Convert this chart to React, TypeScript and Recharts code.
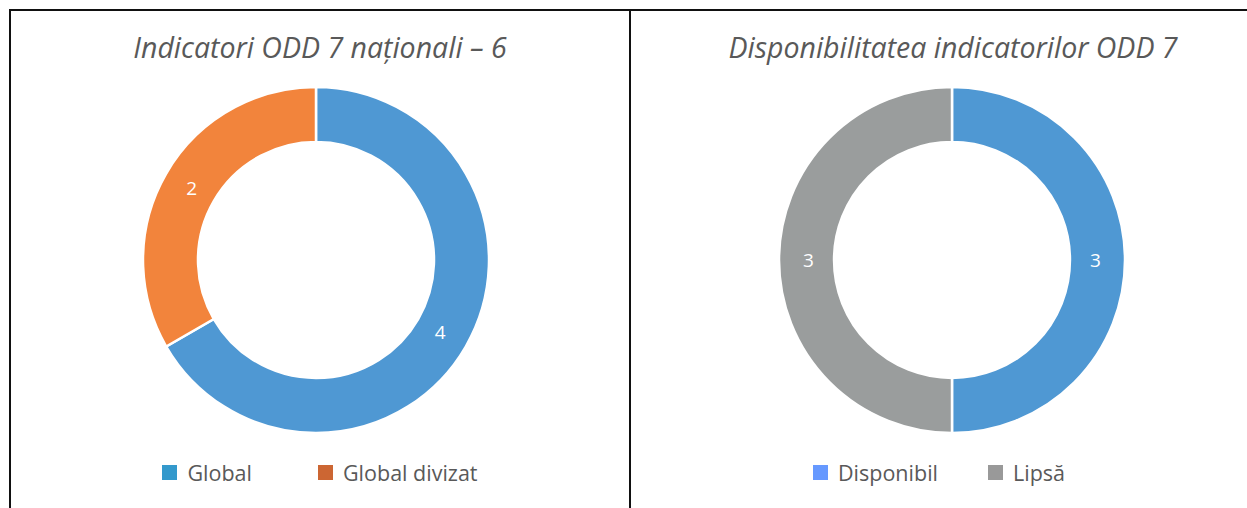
import React from 'react';
import { Legend, Pie, PieChart, Cell } from 'recharts';

const leftTitle = 'Indicatori ODD 7 naționali – 6';
const leftNames = ['Global', 'Global divizat'];
const leftValues = [4, 2];
const leftColors = ['#4F98D3', '#F2843C'];
const leftLegendColors = ['#3399CC', '#CC6633'];

const rightTitle = 'Disponibilitatea indicatorilor ODD 7';
const rightNames = ['Disponibil', 'Lipsă'];
const rightValues = [3, 3];
const rightColors = ['#4F98D3', '#9A9D9D'];
const rightLegendColors = ['#6699FF', '#999999'];

const FONT = '"Open Sans", "Noto Sans", sans-serif';
const TEXT = '#595959';
const RADIAN = Math.PI / 180;

const renderLabel = (props: any) => {
  const { cx, cy, midAngle, innerRadius, outerRadius, value } = props;
  const r = (innerRadius + outerRadius) / 2 - 2;
  const x = cx + r * Math.cos(-midAngle * RADIAN);
  const y = cy + r * Math.sin(-midAngle * RADIAN);
  return (
    <text x={x} y={y} fill="#fff" fontSize={19} fontFamily={FONT} textAnchor="middle" dominantBaseline="central">
      {value}
    </text>
  );
};

type DonutProps = {
  title: string;
  names: string[];
  values: number[];
  colors: string[];
  legendColors: string[];
  left: number;
  width: number;
  cx: number;
  titleCenter: number;
  legendGap: number;
};

const Donut: React.FC<DonutProps> = ({ title, names, values, colors, legendColors, left, width, cx, titleCenter, legendGap }) => {
  const data = names.map((name, i) => ({ name, value: values[i] }));
  return (
    <div style={{ position: 'absolute', left, top: 10, width, height: 498 }}>
      <div
        style={{
          position: 'absolute',
          top: 18,
          left: titleCenter - 300,
          width: 600,
          textAlign: 'center',
          fontFamily: FONT,
          fontStyle: 'italic',
          fontSize: 28.5,
          color: TEXT,
          whiteSpace: 'nowrap',
        }}
      >
        {title}
      </div>
      <PieChart width={width} height={498} margin={{ top: 0, right: 0, bottom: 0, left: 0 }}>
        <Pie
          data={data}
          dataKey="value"
          nameKey="name"
          cx={cx}
          cy={250}
          innerRadius={118}
          outerRadius={173}
          startAngle={90}
          endAngle={-270}
          stroke="#fff"
          strokeWidth={2.5}
          label={renderLabel}
          labelLine={false}
          isAnimationActive={false}
        >
          {data.map((d, i) => (
            <Cell key={d.name} fill={colors[i]} />
          ))}
        </Pie>
        <Legend
          wrapperStyle={{ position: 'absolute', top: 448, left: 0, width, height: 28 }}
          content={() => (
            <div style={{ display: 'flex', justifyContent: 'center', alignItems: 'center', gap: legendGap }}>
              {names.map((n, i) => (
                <div key={n} style={{ display: 'flex', alignItems: 'center', fontFamily: FONT, fontSize: 21.5, color: TEXT }}>
                  <span style={{ width: 15, height: 15, background: legendColors[i], marginRight: 10, display: 'inline-block' }} />
                  {n}
                </div>
              ))}
            </div>
          )}
        />
      </PieChart>
    </div>
  );
};

export default function App() {
  return (
    <div style={{ position: 'absolute', left: 0, top: 0, width: 1247, height: 508, background: '#fff', overflow: 'hidden' }}>
      <div style={{ position: 'absolute', left: 9, top: 9, width: 1238, height: 2, background: '#111' }} />
      <div style={{ position: 'absolute', left: 9, top: 9, width: 2, height: 499, background: '#111' }} />
      <div style={{ position: 'absolute', left: 629, top: 9, width: 2, height: 499, background: '#111' }} />
      <Donut
        title={leftTitle}
        names={leftNames}
        values={leftValues}
        colors={leftColors}
        legendColors={leftLegendColors}
        left={11}
        width={618}
        cx={305}
        titleCenter={309}
        legendGap={66}
      />
      <Donut
        title={rightTitle}
        names={rightNames}
        values={rightValues}
        colors={rightColors}
        legendColors={rightLegendColors}
        left={631}
        width={616}
        cx={321}
        titleCenter={322}
        legendGap={50}
      />
    </div>
  );
}
